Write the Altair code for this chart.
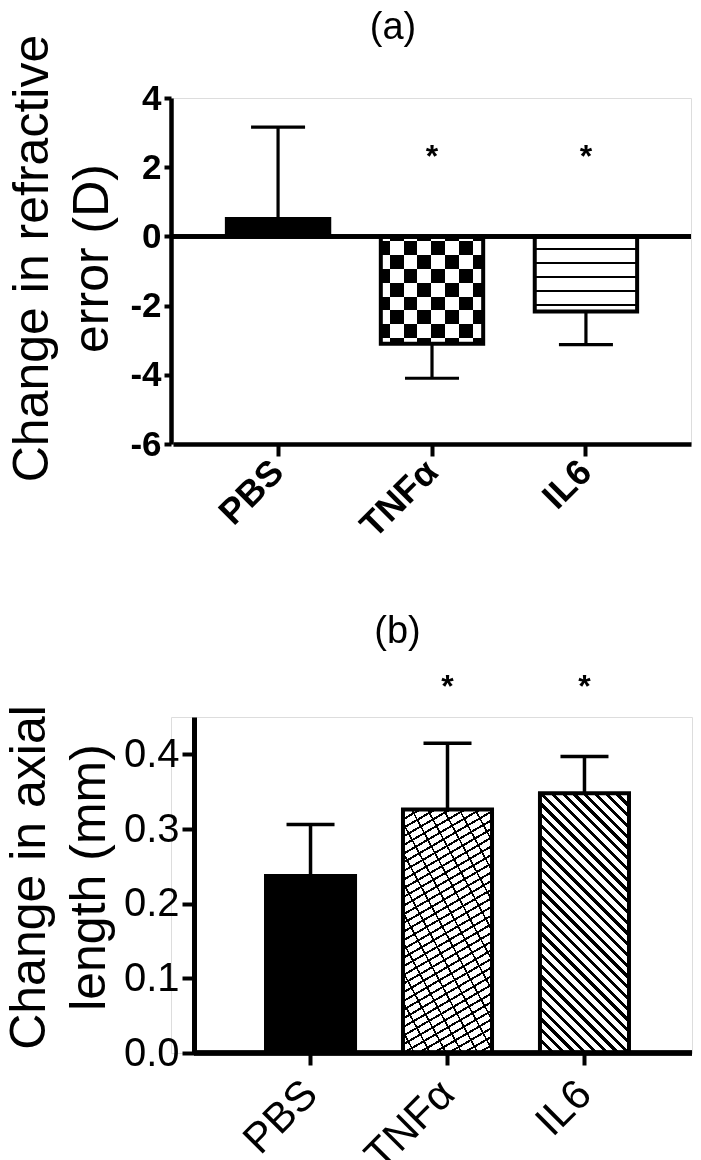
import math
import altair as alt
import pandas as pd

FONT = "Liberation Sans"

# ---------------- data ----------------
groups = ["PBS", "TNFα", "IL6"]
refr_mean = [0.5, -3.1, -2.17]
refr_err_end = [3.16, -4.1, -3.13]
axial_mean = [0.237, 0.326, 0.348]
axial_err_end = [0.306, 0.415, 0.397]
star_groups = ["TNFα", "IL6"]
star_a = [2.45, 2.45]
star_b = [0.497, 0.497]
ticks_a = [-6, -4, -2, 0, 2, 4]
ticks_b = [0.0, 0.1, 0.2, 0.3, 0.4]

df_a = pd.DataFrame({"group": groups, "mean": refr_mean, "err": refr_err_end})
df_b = pd.DataFrame({"group": groups, "mean": axial_mean, "err": axial_err_end})
st_a = pd.DataFrame({"group": star_groups, "star": star_a, "t": ["*", "*"]})
st_b = pd.DataFrame({"group": star_groups, "star": star_b, "t": ["*", "*"]})

# ---------------- geometry (style) ----------------
W_A, H_A = 520, 346
PI_A, PO_A = 0.335, 0.35
RANGE_A = [2, W_A]
DOM_A = [-6, 4]

W_B, H_B = 521, 336
SHIFT_B = 23                     # y axis of panel (b) sits further right
RANGE_B = [32, W_B]
PI_B, PO_B = 0.35, 0.46
DOM_B = [0, 0.45]


def bandwidth(rng, pi, po, n=3):
    step = (rng[1] - rng[0]) / (n - pi + 2 * po)
    return step * (1 - pi)


def stripes(W, H, theta_deg, period, thick, phase=0.0, bg="white", fg="black"):
    """Linear gradient that draws parallel stripes in a W x H box."""
    th = math.radians(theta_deg)
    ux, uy = math.cos(th), math.sin(th)
    nx, ny = -uy, ux
    corners = [(0, 0), (1, 0), (0, 1), (1, 1)]
    vals = [cx * W * nx + cy * H * ny for cx, cy in corners]
    lo, hi = min(vals), max(vals)
    L = hi - lo
    p1 = corners[vals.index(lo)]
    gx, gy = W * nx / L, H * ny / L
    g2 = gx * gx + gy * gy
    p2 = (p1[0] + gx / g2, p1[1] + gy / g2)
    stops = [{"offset": 0, "color": bg}]
    s = phase
    while s < L:
        e = min(s + thick, L)
        if e > 0:
            a = max(s, 0) / L
            b = e / L
            stops += [
                {"offset": a, "color": bg},
                {"offset": a, "color": fg},
                {"offset": b, "color": fg},
                {"offset": b, "color": bg},
            ]
        s += period
    stops.append({"offset": 1, "color": bg})
    return {"gradient": "linear", "x1": p1[0], "y1": p1[1],
            "x2": p2[0], "y2": p2[1], "stops": stops}


TRANSP = "rgba(0,0,0,0)"

bw_a = bandwidth(RANGE_A, PI_A, PO_A)
ppu_a = H_A / (DOM_A[1] - DOM_A[0])
h_tnf_a = abs(refr_mean[1]) * ppu_a
h_il6_a = abs(refr_mean[2]) * ppu_a
cell = 13.8
fill_tnf_a = stripes(bw_a, h_tnf_a, 0, 2 * cell, cell, phase=-8.8)
over_tnf_a = stripes(bw_a, h_tnf_a, -90, 2 * cell, cell, phase=-4.8, bg=TRANSP, fg="white")
fill_il6_a = stripes(bw_a, h_il6_a, 0, 14, 2.2, phase=11.2)

bw_b = bandwidth(RANGE_B, PI_B, PO_B)
ppu_b = H_B / (DOM_B[1] - DOM_B[0])
h_tnf_b = axial_mean[1] * ppu_b
h_il6_b = axial_mean[2] * ppu_b
fill_tnf_b = stripes(bw_b, h_tnf_b, -30, 7.5, 2.0)
over_tnf_b = stripes(bw_b, h_tnf_b, 62, 14, 1.6, bg=TRANSP, fg="black")
fill_il6_b = stripes(bw_b, h_il6_b, 45, 7.6, 3.0)


def axis_common(**kw):
    base = dict(grid=False, labelColor="black", titleColor="black",
                domainColor="black", tickColor="black",
                labelFont=FONT, titleFont=FONT, titleFontWeight="normal")
    base.update(kw)
    return alt.Axis(**base)


def make_panel(df, st, fills, overlay, W, H, rng, pi, po, dom, xaxis, yaxis,
               capsize, errw, bar_sw, title, zero_line, base_rule):
    xs = alt.Scale(domain=groups, paddingInner=pi, paddingOuter=po, range=rng)
    ys = alt.Scale(domain=dom, nice=False, zero=True)
    x = alt.X("group:N", sort=groups, scale=xs, axis=xaxis, title=None)
    y = alt.Y("mean:Q", scale=ys, axis=yaxis)
    yerr = alt.Y("err:Q", scale=ys, axis=yaxis)
    ystar = alt.Y("star:Q", scale=ys, axis=yaxis)
    yzero = alt.Y(datum=0, type="quantitative", scale=ys, axis=yaxis)

    layers = []
    for g, f in zip(groups, fills):
        layers.append(
            alt.Chart(df).transform_filter(alt.datum.group == g)
            .mark_bar(fill=f, strokeWidth=0).encode(x=x, y=y)
        )
    g_over, f_over, blend = overlay
    mk = dict(fill=f_over, strokeWidth=0)
    if blend:
        mk["blend"] = blend
    layers.append(
        alt.Chart(df).transform_filter(alt.datum.group == g_over)
        .mark_bar(**mk).encode(x=x, y=y)
    )
    layers.append(
        alt.Chart(df).mark_bar(fillOpacity=0, stroke="black", strokeWidth=bar_sw)
        .encode(x=x, y=y)
    )
    if zero_line:
        layers.append(
            alt.Chart(df).mark_rule(color="black", strokeWidth=4.5)
            .encode(y=yzero)
        )
    if base_rule is not None:
        layers.append(
            alt.Chart(df).mark_rule(color="black", strokeWidth=5)
            .encode(y=yzero, x=alt.value(base_rule[0]), x2=alt.value(base_rule[1]))
        )
    layers.append(
        alt.Chart(df).mark_rule(color="black", strokeWidth=errw)
        .encode(x=x, y=y, y2="err:Q")
    )
    layers.append(
        alt.Chart(df).mark_tick(color="black", size=capsize, thickness=errw, opacity=1)
        .encode(x=x, y=yerr)
    )
    layers.append(
        alt.Chart(st).mark_text(fontSize=32, fontWeight="bold", font=FONT,
                                color="black", baseline="middle", dy=5)
        .encode(x=x, y=ystar, text="t:N")
    )
    return alt.layer(*layers).properties(width=W, height=H, title=title)


xaxis_a = axis_common(labelAngle=-45, labelFontSize=36, labelFontWeight="bold",
                      labelAlign="right", labelBaseline="middle", labelPadding=10,
                      domainWidth=4.5, tickWidth=4, tickSize=12)
yaxis_a = axis_common(values=ticks_a, title=["Change in refractive", "error (D)"],
                      titleFontSize=50, titleLineHeight=60, titlePadding=12,
                      titleY=160,
                      labelFontSize=35, labelFontWeight="bold", labelPadding=3,
                      labelExpr="datum.value < 0 ? '-' + abs(datum.value) : '' + datum.value",
                      domainWidth=4.5, tickWidth=4, tickSize=7)
title_a = alt.Title("(a)", fontSize=38, font=FONT, fontWeight="normal",
                    color="black", anchor="middle", frame="group", dx=-38, offset=-13)

xaxis_b = axis_common(labelAngle=-45, labelFontSize=42, labelFontWeight="normal",
                      labelAlign="right", labelBaseline="middle", labelPadding=22,
                      domain=False, tickWidth=4, tickSize=12)
yaxis_b = axis_common(values=ticks_b, title=["Change in axial", "length (mm)"],
                      titleFontSize=50, titleLineHeight=60, titlePadding=8.7,
                      titleY=160,
                      labelFontSize=40, labelFontWeight="normal", labelPadding=3,
                      format=".1f", domainWidth=5, tickWidth=4, tickSize=12,
                      offset=-SHIFT_B)
title_b = alt.Title("(b)", fontSize=38, font=FONT, fontWeight="normal",
                    color="black", anchor="middle", frame="group", dx=-34, offset=20)

panel_a = make_panel(df_a, st_a, ["black", fill_tnf_a, fill_il6_a],
                     ("TNFα", over_tnf_a, "difference"),
                     W_A, H_A, RANGE_A, PI_A, PO_A, DOM_A, xaxis_a, yaxis_a,
                     54, 3.2, 4, title_a, True, None)
panel_b = make_panel(df_b, st_b, ["black", fill_tnf_b, fill_il6_b],
                     ("TNFα", over_tnf_b, None),
                     W_B, H_B, RANGE_B, PI_B, PO_B, DOM_B, xaxis_b, yaxis_b,
                     48, 3.5, 4, title_b, False, (SHIFT_B, W_B))

chart = (
    alt.concat(panel_a, panel_b, columns=1, spacing=67)
    .properties(padding={"left": -4, "top": 0, "right": -2, "bottom": -15})
    .configure_view(stroke=None)
    .configure(background="white")
)

chart.save("out.html", embed_options={"renderer": "svg", "actions": False})
